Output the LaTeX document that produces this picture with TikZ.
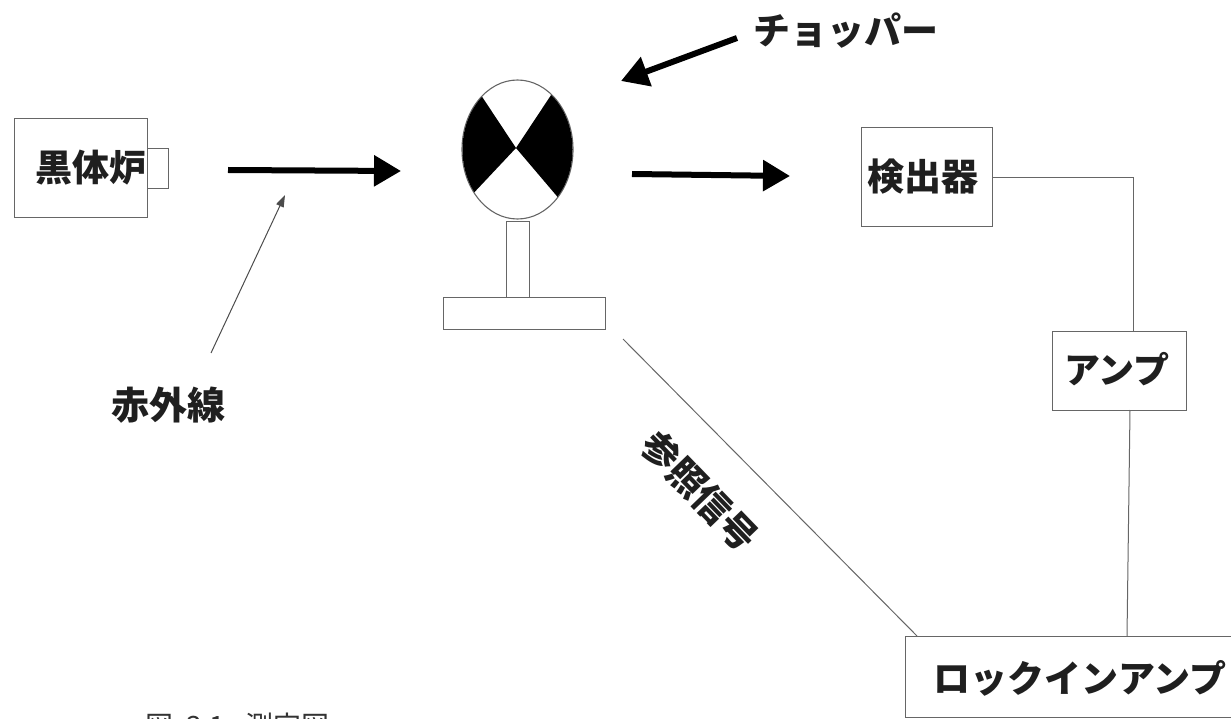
\documentclass[tikz,border=0pt]{standalone}
\usepackage{fontspec}
\setmainfont{Noto Sans CJK JP}
\usetikzlibrary{arrows.meta,shapes.geometric}
\definecolor{ln}{gray}{0.40}
\tikzset{
  x=1pt,y=-1pt,
  boxn/.style={draw=ln,line width=1.3pt,fill=white,inner sep=0pt,anchor=north west},
  lab/.style={font=\fontsize{#1}{#1}\selectfont\bfseries\color{black!88},inner sep=0pt},
  wire/.style={draw=ln,line width=1pt},
  bigarrow/.style={draw=black,line width=6pt,-{Triangle[length=27pt,width=30pt]}},
  thinarrow/.style={draw=black!70,line width=1pt,-{Triangle[length=12pt,width=8pt]}},
}
\begin{document}
\begin{tikzpicture}
\useasboundingbox (0,0) rectangle (1231,719);
\clip (0,0) rectangle (1231,719);
% furnace
\node[boxn,minimum width=133pt,minimum height=99pt] (bb) at (14,118) {};
\node[boxn,minimum width=21pt,minimum height=40pt] (port) at (147,148) {};
\node[lab=37] (bbt) at (91,168) {黒体炉};
% chopper
\node[boxn,minimum width=23pt,minimum height=76pt] (stem) at (506,221) {};
\node[boxn,minimum width=162pt,minimum height=32pt] (base) at (443,297) {};
\node[draw=ln,line width=1.1pt,fill=white,ellipse,minimum width=111pt,minimum height=139pt,inner sep=0pt] (disk) at (517.5,149.5) {};
\begin{scope}
\clip (517.5,149.5) ellipse [x radius=55,y radius=69];
\coordinate (cc) at (516,148);
\fill[black] (cc) -- (465,71) -- (440,71) -- (440,225) -- (453,215) -- cycle;
\fill[black] (cc) -- (567,71) -- (590,71) -- (590,225) -- (578,221) -- cycle;
\end{scope}
% right boxes
\node[boxn,minimum width=131pt,minimum height=99pt] (det) at (861,127) {};
\node[lab=37] (dett) at (923,177) {検出器};
\node[boxn,minimum width=134pt,minimum height=79pt] (amp) at (1052,331) {};
\node[lab=36] (ampt) at (1117,369) {アンプ};
\node[boxn,minimum width=340pt,minimum height=81pt] (lock) at (905,636) {};
\node[lab=37] (lockt) at (1080,678) {ロックインアンプ};
% wires
\coordinate (wc) at (1133,178);
\coordinate (a1) at (1133,331);
\coordinate (a2) at (1130,410);
\coordinate (l1) at (1127,636);
\coordinate (r1) at (623,339);
\coordinate (l2) at (917,636);
\draw[wire] (det.east |- wc) -- (wc) -- (a1);
\draw[wire] (a2) -- (l1);
\draw[wire] (r1) -- (l2);
% arrows
\coordinate (a1s) at (228,170); \coordinate (a1e) at (401,171);
\coordinate (a2s) at (632,174); \coordinate (a2e) at (790,176);
\coordinate (a3s) at (737,38);  \coordinate (a3e) at (621,81);
\coordinate (a4s) at (211,353); \coordinate (a4e) at (285,195);
\draw[bigarrow] (a1s) -- (a1e);
\draw[bigarrow] (a2s) -- (a2e);
\draw[bigarrow] (a3s) -- (a3e);
\draw[thinarrow] (a4s) -- (a4e);
% labels
\node[lab=38] (ir) at (168,405) {赤外線};
\node[lab=37] (cht) at (846,31) {チョッパー};
\node[lab=37,rotate=-46] (ref) at (700,491) {参照信号};
\node[font=\fontsize{28}{28}\selectfont,text=black!80,inner sep=0pt,anchor=base west] (cap) at (145,736) {図\hspace{13pt}3.1:\hspace{13pt}測定図};
\end{tikzpicture}
\end{document}
